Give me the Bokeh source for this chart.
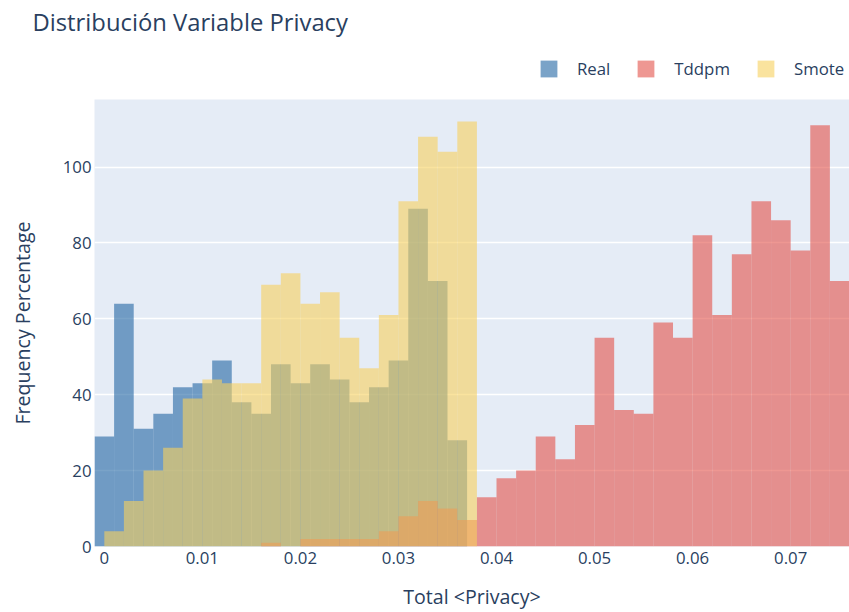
import numpy as np
from bokeh.plotting import figure
from bokeh.layouts import column
from bokeh.models import Range1d, FixedTicker, Legend, LegendItem, ColumnDataSource, Label
from bokeh.embed import file_html
from bokeh.resources import INLINE

# ---- data (histogram counts) ----
bin_width = 0.002
real_first_edge = -0.001
real_counts = [29, 64, 31, 35, 42, 43, 49, 38, 35, 48, 43, 48, 44, 38, 42, 49, 89, 70, 28]
tddpm_first_edge = 0.016
tddpm_counts = [1, 0, 2, 2, 2, 2, 4, 8, 12, 10, 7, 13, 18, 20, 29, 23, 32, 55, 36, 35,
                59, 55, 82, 61, 77, 91, 86, 78, 111, 70]
smote_first_edge = 0.0
smote_counts = [4, 12, 20, 26, 39, 44, 43, 43, 69, 72, 64, 67, 55, 47, 61, 91, 108, 104, 112]

series_names = ["Real", "Tddpm", "Smote"]
series_colors = ["#2265a3", "#e3514a", "#f7d15e"]

x_ticks = [0, 0.01, 0.02, 0.03, 0.04, 0.05, 0.06, 0.07]
x_tick_labels = ["0", "0.01", "0.02", "0.03", "0.04", "0.05", "0.06", "0.07"]
y_ticks = [0, 20, 40, 60, 80, 100]

title_text = "Distribución Variable Privacy"
x_title = "Total <Privacy>"
y_title = "Frequency Percentage"

TEXT = "#2a3f5f"
FONT = "Open Sans"
ALPHA = 0.6


def hist_source(first_edge, counts):
    n = len(counts)
    left = np.round(first_edge + bin_width * np.arange(n), 6)
    right = np.round(left + bin_width, 6)
    return ColumnDataSource(dict(left=left, right=right, top=counts, bottom=[0] * n))


# ---------- header (title + legend) ----------
W, HEAD_H = 849, 99
head = figure(width=W, height=HEAD_H, output_backend="svg", toolbar_location=None,
              x_range=Range1d(0, W), y_range=Range1d(HEAD_H, 0),
              x_axis_type=None, y_axis_type=None,
              min_border_left=0, min_border_right=0, min_border_top=0, min_border_bottom=0)
head.frame_align = False
head.grid.visible = False
head.outline_line_color = None
head.background_fill_color = "white"
head.border_fill_color = "white"

head.add_layout(Label(x=32, y=21, text=title_text, text_font=FONT, text_font_size="23.8px",
                      text_color=TEXT, text_align="left", text_baseline="middle"))

# legend-only renderers (NaN geometry: nothing drawn, only the legend swatch)
legend_renderers = []
for color in series_colors:
    legend_renderers.append(head.quad(left=[np.nan], right=[np.nan], top=[np.nan], bottom=[np.nan],
                                      fill_color=color, fill_alpha=ALPHA, line_color=None))
legend = Legend(items=[LegendItem(label=n, renderers=[r]) for n, r in zip(series_names, legend_renderers)],
                orientation="horizontal", location=(538, 19), padding=0, margin=0,
                spacing=25, label_standoff=18, glyph_width=21, glyph_height=21,
                label_height=21, label_text_font=FONT, label_text_font_size="16.8px",
                label_text_color=TEXT, background_fill_alpha=0, border_line_color=None)
head.add_layout(legend)

# ---------- main chart ----------
p = figure(width=W, height=612 - HEAD_H, output_backend="svg", toolbar_location=None,
           x_range=Range1d(-0.001, 0.076), y_range=Range1d(0, 117.8),
           min_border_left=94, min_border_right=0, min_border_top=0, min_border_bottom=65)
p.frame_align = False
p.background_fill_color = "#E5ECF6"
p.border_fill_color = "white"
p.outline_line_color = None

for color, (edge, counts) in zip(series_colors,
                                 [(real_first_edge, real_counts),
                                  (tddpm_first_edge, tddpm_counts),
                                  (smote_first_edge, smote_counts)]):
    p.quad(left="left", right="right", top="top", bottom="bottom",
           source=hist_source(edge, counts), fill_color=color, fill_alpha=ALPHA,
           line_color=None)

p.xaxis.ticker = FixedTicker(ticks=x_ticks)
p.xaxis.major_label_overrides = {t: l for t, l in zip(x_ticks, x_tick_labels)}
p.yaxis.ticker = FixedTicker(ticks=y_ticks)
for ax in (p.xaxis, p.yaxis):
    ax.axis_line_color = None
    ax.major_tick_line_color = None
    ax.minor_tick_line_color = None
    ax.major_tick_out = 0
    ax.major_tick_in = 0
    ax.major_label_text_font = FONT
    ax.major_label_text_font_size = "16.8px"
    ax.major_label_text_color = TEXT
    ax.axis_label_text_font = FONT
    ax.axis_label_text_font_size = "19.6px"
    ax.axis_label_text_color = TEXT
    ax.axis_label_text_font_style = "normal"
p.xaxis.major_label_standoff = 5
p.yaxis.major_label_standoff = 3
p.xaxis.axis_label = x_title
p.yaxis.axis_label = y_title
p.xaxis.axis_label_standoff = 16
p.yaxis.axis_label_standoff = 24

p.xgrid.grid_line_color = None
p.ygrid.grid_line_color = "white"
p.ygrid.grid_line_width = 1.3

layout = column(head, p, spacing=0)
open("out.html", "w").write(file_html(layout, INLINE))
